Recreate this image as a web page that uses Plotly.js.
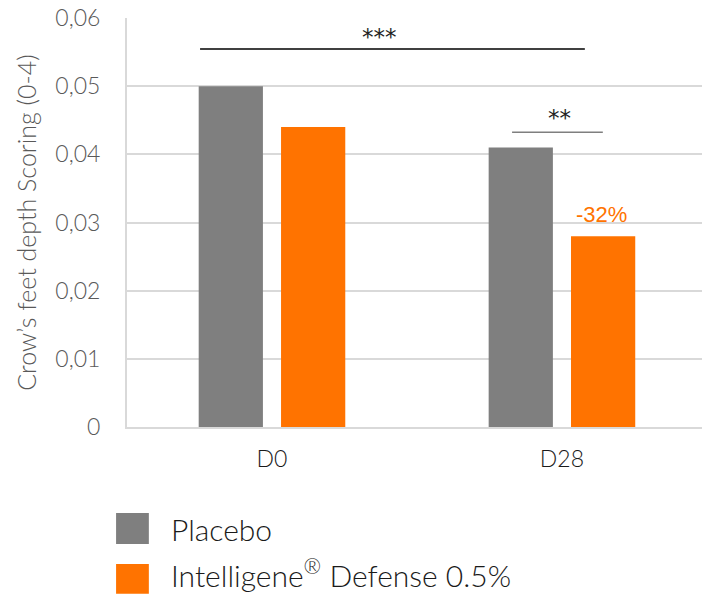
<!DOCTYPE html>
<html>
<head>
<meta charset="utf-8">
<script src="https://cdn.plot.ly/plotly-3.0.1.min.js"></script>
<style>html,body{margin:0;padding:0;background:#fff;}#chart{width:702px;height:594px;}</style>
</head>
<body>
<div id="chart"></div>
<script>
// ---- data ----
const categories = ["D0", "D28"];
const seriesNames = ["Placebo", "Intelligene<sup>®</sup> Defense 0.5%"];
const placeboValues = [0.05, 0.041];
const intelligeneValues = [0.044, 0.028];
const seriesColors = ["#7f7f7f", "#ff7300"];
const yTickValues = [0, 0.01, 0.02, 0.03, 0.04, 0.05, 0.06];
const yTickLabels = ["0", "0,01", "0,02", "0,03", "0,04", "0,05", "0,06"];
const reductionLabel = "-32%";
const sigLabels = ["***", "**"];

const FONT = "Lato, 'Open Sans', sans-serif";
const STAR_FONT = "'DejaVu Sans', sans-serif";

const traces = [
  {type: "bar", x: categories, y: placeboValues, name: seriesNames[0],
   marker: {color: seriesColors[0]}, hoverinfo: "none"},
  {type: "bar", x: categories, y: intelligeneValues, name: seriesNames[1],
   marker: {color: seriesColors[1]}, hoverinfo: "none"}
];

// legend built as shapes + annotations
const legendShapes = seriesColors.map((c, i) => ({
  type: "rect", xref: "paper", yref: "paper",
  x0: -0.019, x1: 0.038,
  y0: i === 0 ? -0.286 : -0.408, y1: i === 0 ? -0.210 : -0.335,
  fillcolor: c, line: {width: 0}
}));
const legendAnn = seriesNames.map((n, i) => ({
  xref: "paper", yref: "paper", x: 0.073, y: i === 0 ? -0.25 : -0.357,
  xanchor: "left", yanchor: "middle", showarrow: false, text: n,
  font: {family: FONT, size: 30, weight: 300, color: "#1a1a1a"}
}));

const layout = {
  width: 702, height: 594,
  margin: {l: 127, r: 0, t: 18, b: 167},
  paper_bgcolor: "#fff", plot_bgcolor: "#fff",
  separators: ", ",
  showlegend: false,
  barmode: "group",
  bargap: 0.432,
  bargroupgap: 0.22,
  font: {family: FONT},
  xaxis: {
    type: "category", range: [-0.5, 1.483],
    showgrid: false, showline: true, linecolor: "#d9d9d9", linewidth: 2,
    ticks: "", ticklabelstandoff: 10,
    tickfont: {family: FONT, size: 23, weight: 300, color: "#1a1a1a"}
  },
  yaxis: {
    range: [0, 0.06], tickvals: yTickValues, ticktext: yTickLabels,
    showgrid: true, gridcolor: "#d9d9d9", gridwidth: 2,
    showline: true, linecolor: "#d9d9d9", linewidth: 2,
    zeroline: false, ticks: "", ticklabelstandoff: 20,
    tickfont: {family: FONT, size: 23, weight: 300, color: "#595959"},
    title: {text: "Crow’s feet depth Scoring (0-4)", standoff: 12,
            font: {family: FONT, size: 25, weight: 300, color: "#595959"}}
  },
  shapes: [
    {type: "line", xref: "x", yref: "y", x0: -0.248, x1: 1.079, y0: 0.05544, y1: 0.05544,
     line: {color: "#000", width: 1.5}},
    {type: "line", xref: "x", yref: "y", x0: 0.828, x1: 1.141, y0: 0.04324, y1: 0.04324,
     line: {color: "#7f7f7f", width: 1.5}}
  ].concat(legendShapes),
  annotations: [
    {xref: "x", yref: "y", x: 0.372, y: 0.05728, yanchor: "middle", text: sigLabels[0], showarrow: false,
     font: {family: STAR_FONT, size: 23, color: "#222"}},
    {xref: "x", yref: "y", x: 0.993, y: 0.04529, yanchor: "middle", text: sigLabels[1], showarrow: false,
     font: {family: STAR_FONT, size: 23, color: "#222"}},
    {xref: "x", yref: "y", x: 1.138, y: 0.0312, text: reductionLabel, showarrow: false,
     font: {family: "Liberation Sans, Arial, sans-serif", size: 22, color: "#ff7300"}}
  ].concat(legendAnn)
};

Plotly.newPlot("chart", traces, layout, {staticPlot: true, displayModeBar: false});
</script>
</body>
</html>
